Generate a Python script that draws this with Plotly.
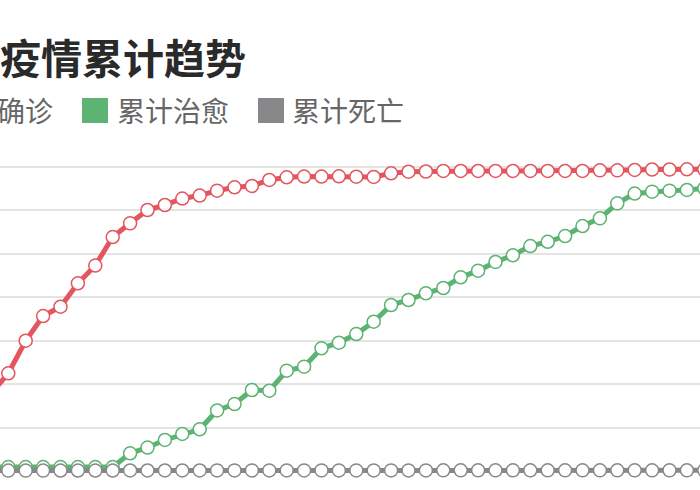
import plotly.graph_objects as go

# ---------------- data ----------------
dates = ["01-25", "01-26", "01-27", "01-28", "01-29", "01-30", "01-31",
         "02-01", "02-02", "02-03", "02-04", "02-05", "02-06", "02-07",
         "02-08", "02-09", "02-10", "02-11", "02-12", "02-13", "02-14",
         "02-15", "02-16", "02-17", "02-18", "02-19", "02-20", "02-21",
         "02-22", "02-23", "02-24", "02-25", "02-26", "02-27", "02-28",
         "02-29", "03-01", "03-02", "03-03", "03-04", "03-05", "03-06"]

confirmed = [17700, 22460, 29950, 35630, 37770, 43150, 47240, 53790, 56940, 60000,
             61150, 62640, 63330, 64440, 65220, 65520, 66900, 67520, 67700, 67700,
             67750, 67650, 67590, 68440, 68800, 68850, 68970, 68970, 68970, 68970,
             68970, 68970, 68970, 68970, 68970, 69120, 69120, 69200, 69310, 69310,
             69360, 69360]

cured = [900, 900, 900, 900, 900, 900, 900, 900, 4070, 5400,
         7130, 8510, 9590, 13910, 15400, 18620, 18460, 23060, 23980, 28210,
         29490, 31490, 34320, 38160, 39310, 40850, 42070, 44530, 46050, 48050,
         49590, 51720, 52690, 54020, 56320, 58090, 61530, 63790, 64210, 64440,
         64600, 64990]

dead = [100, 100, 100, 100, 110, 110, 110, 110, 120, 120,
        120, 120, 120, 130, 130, 130, 130, 130, 130, 140,
        140, 140, 140, 140, 140, 140, 150, 150, 150, 150,
        150, 150, 150, 150, 150, 150, 150, 150, 150, 150,
        150, 150]

series_names = ["累计确诊", "累计治愈", "累计死亡"]
series_colors = ["#e3565f", "#5cb372", "#88888b"]
title_text = "疫情累计趋势"
grid_values = [0, 10000, 20000, 30000, 40000, 50000, 60000, 70000]

# ---------------- figure ----------------
W, H = 700, 490
fig = go.Figure()
for name, vals, col in zip(series_names, [confirmed, cured, dead], series_colors):
    fig.add_trace(go.Scatter(
        x=dates, y=vals, name=name, mode="lines+markers",
        line=dict(color=col, width=5),
        marker=dict(symbol="circle", size=13, color="white",
                    line=dict(color=col, width=1.5)),
        showlegend=False,
    ))

def px(x):
    return x / W

def py(y):
    return 1 - y / H

annotations = [
    dict(text="<b>" + title_text + "</b>", x=px(-2), y=py(56), xref="paper", yref="paper",
         xanchor="left", yanchor="middle", showarrow=False,
         font=dict(size=41, color="#2a2a2a", family="Noto Sans CJK SC")),
]
shapes = []
# custom legend: square + label
leg_square_x = [-94, 82, 258]
leg_text_x = [-61, 115, 290]
for name, col, sx, tx in zip(series_names, series_colors, leg_square_x, leg_text_x):
    shapes.append(dict(type="rect", xref="paper", yref="paper",
                       x0=px(sx), x1=px(sx + 26), y0=py(123), y1=py(98),
                       fillcolor=col, line=dict(width=0)))
    annotations.append(dict(text=name, x=px(tx), y=py(110), xref="paper", yref="paper",
                            xanchor="left", yanchor="middle", showarrow=False,
                            font=dict(size=28, color="#666666", family="Noto Sans CJK SC")))

fig.update_layout(
    width=W, height=H,
    margin=dict(l=0, r=0, t=0, b=0),
    paper_bgcolor="white", plot_bgcolor="white",
    showlegend=False,
    annotations=annotations, shapes=shapes,
    xaxis=dict(type="category", range=[0.523, 40.753], visible=False),
    yaxis=dict(range=[-4368, 108276], tickvals=grid_values, showticklabels=False,
               showgrid=True, gridcolor="#e4e4e4", gridwidth=1.5,
               zeroline=False, showline=False, ticks=""),
)

fig.write_html("out.html", config={"displayModeBar": False},
               post_script="document.body.style.margin='0';document.body.style.overflow='hidden';")
